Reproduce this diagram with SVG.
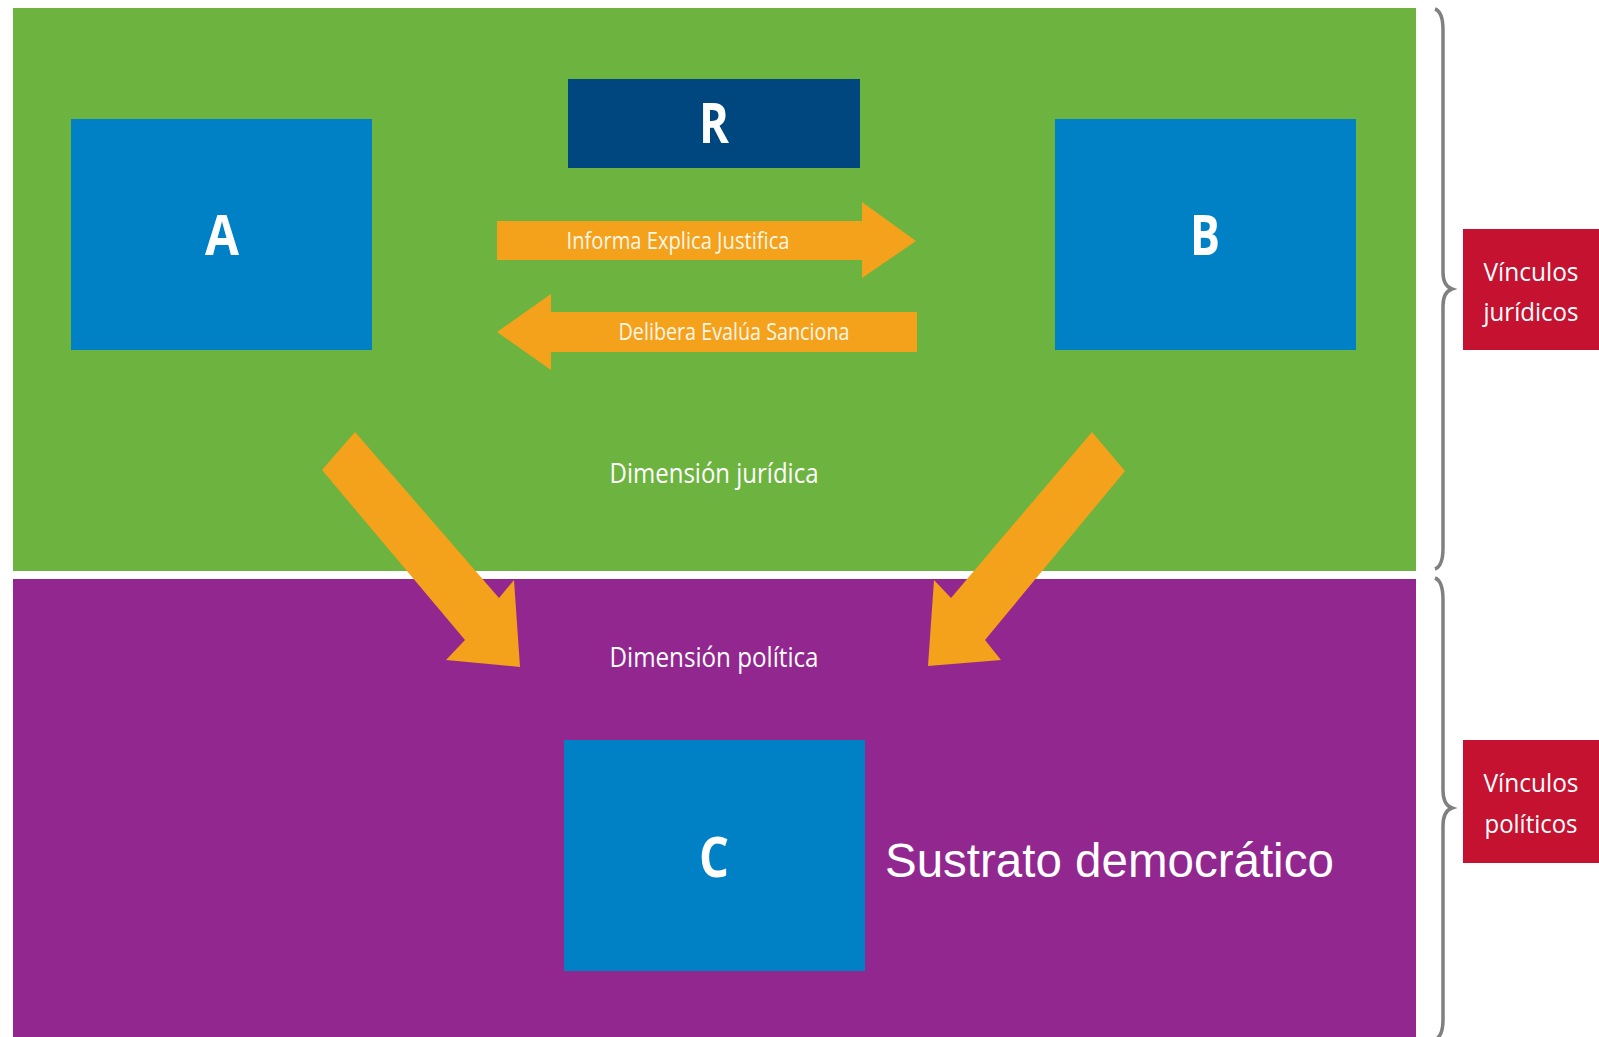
<svg xmlns="http://www.w3.org/2000/svg" width="1599" height="1037" viewBox="0 0 1599 1037">
<style>
.box{fill:#0081C6}
.letter{font-family:"Open Sans","Liberation Sans",sans-serif;font-weight:bold;font-size:56px;fill:#fff;text-anchor:middle}
.lbl{font-family:"Open Sans","Liberation Sans",sans-serif;font-size:23px;fill:#FFF6E6;text-anchor:middle}
.dim{font-family:"Open Sans","Liberation Sans",sans-serif;font-size:27px;fill:#fff;text-anchor:middle}
.tag{font-family:"Open Sans","Liberation Sans",sans-serif;font-size:26px;fill:#fff;text-anchor:middle}
.arrow{fill:#F4A11C}
.brace{fill:none;stroke:#808080;stroke-width:3.5}
.red{fill:#C41230}
</style>
<rect x="0" y="0" width="1599" height="1037" fill="#fff"/>
<g id="dim-juridica">
<rect x="13" y="8" width="1403" height="563" fill="#6DB33F"/>
<text class="dim" x="714" y="483" textLength="209" lengthAdjust="spacingAndGlyphs">Dimensión jurídica</text>
</g>
<g id="dim-politica">
<rect x="13" y="579" width="1403" height="458" fill="#92278F"/>
<text class="dim" x="714" y="667" textLength="209" lengthAdjust="spacingAndGlyphs">Dimensión política</text>
</g>
<g id="node-R">
<rect x="568" y="79" width="292" height="89" fill="#00467F"/>
<text class="letter" x="714" y="143" textLength="30" lengthAdjust="spacingAndGlyphs">R</text>
</g>
<g id="node-A">
<rect class="box" x="71" y="119" width="301" height="231"/>
<text class="letter" x="222" y="255" textLength="34" lengthAdjust="spacingAndGlyphs">A</text>
</g>
<g id="node-B">
<rect class="box" x="1055" y="119" width="301" height="231"/>
<text class="letter" x="1205" y="255" textLength="30" lengthAdjust="spacingAndGlyphs">B</text>
</g>
<g id="node-C">
<rect class="box" x="564" y="740" width="301" height="231"/>
<text class="letter" x="714" y="877" textLength="30" lengthAdjust="spacingAndGlyphs">C</text>
</g>
<text x="885" y="877" font-family="Liberation Sans, Arial, sans-serif" font-size="47.5" fill="#fff">Sustrato democrático</text>
<g id="connectors">
<polygon class="arrow" points="497,221 862,221 862,202 916,241 862,278 862,260 497,260"/>
<text class="lbl" x="678" y="249" textLength="223" lengthAdjust="spacingAndGlyphs">Informa Explica Justifica</text>
<polygon class="arrow" points="917,312 551,312 551,294 497,332 551,370 551,352 917,352"/>
<text class="lbl" x="734" y="340" textLength="231" lengthAdjust="spacingAndGlyphs">Delibera Evalúa Sanciona</text>
<polygon class="arrow" points="355,432 499,598 514,580 520,667 446,660 465,640 322,470"/>
<polygon class="arrow" points="1092,432 951,598 934,580 928,666 1001,660 985,640 1125,471"/>
</g>
<g id="brace-juridicos">
<path class="brace" d="M1435,9 Q1443,12 1443,30 L1443,272 Q1443,286 1452,289 Q1443,292 1443,306 L1443,548 Q1443,566 1435,569"/>
<rect class="red" x="1463" y="229" width="136" height="121"/>
<text class="tag" x="1531" y="281" textLength="95" lengthAdjust="spacingAndGlyphs">Vínculos</text>
<text class="tag" x="1531" y="321" textLength="95" lengthAdjust="spacingAndGlyphs">jurídicos</text>
</g>
<g id="brace-politicos">
<path class="brace" d="M1435,578 Q1443,581 1443,600 L1443,790 Q1443,805 1452,808 Q1443,811 1443,826 L1443,1020 Q1443,1036 1435,1040"/>
<rect class="red" x="1463" y="740" width="136" height="123"/>
<text class="tag" x="1531" y="792" textLength="95" lengthAdjust="spacingAndGlyphs">Vínculos</text>
<text class="tag" x="1531" y="833" textLength="93" lengthAdjust="spacingAndGlyphs">políticos</text>
</g>
</svg>
